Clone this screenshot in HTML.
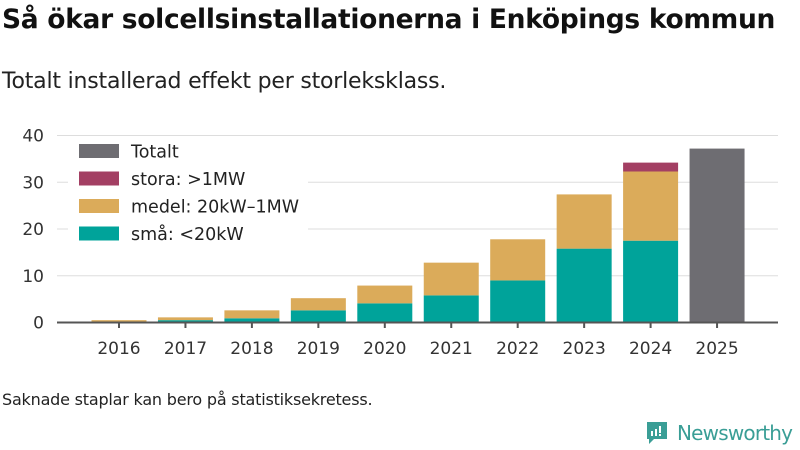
<!DOCTYPE html>
<html><head><meta charset="utf-8"><style>
body{margin:0;width:800px;height:450px;background:#fff;font-family:"Liberation Sans","DejaVu Sans",sans-serif;overflow:hidden;position:relative}
#title{position:absolute;left:2px;top:4px;font-size:26.5px;font-weight:bold;color:#111;font-family:"DejaVu Sans",sans-serif;letter-spacing:-0.3px;white-space:nowrap}
#sub{position:absolute;left:2px;top:69px;font-size:22px;color:#222;font-family:"DejaVu Sans",sans-serif;letter-spacing:-0.2px;white-space:nowrap}
#note{position:absolute;left:2px;top:390px;font-size:16px;color:#222;font-family:"DejaVu Sans",sans-serif;letter-spacing:-0.2px;white-space:nowrap}
</style></head><body>
<div id="title">Så ökar solcellsinstallationerna i Enköpings kommun</div>
<div id="sub">Totalt installerad effekt per storleksklass.</div>
<svg id="chart" width="800" height="450" style="position:absolute;left:0;top:0"></svg>
<div id="note">Saknade staplar kan bero på statistiksekretess.</div>
<div style="position:absolute;left:645px;top:420px;display:flex;align-items:center">
<svg width="24" height="26"><path d="M2 2h20v17H9l-5 5v-5H2z" fill="#3a9e96"/><rect x="6" y="11" width="2" height="5" fill="#fff"/><rect x="10" y="9" width="2" height="7" fill="#fff"/><rect x="14" y="6" width="2" height="7" fill="#fff"/><rect x="14" y="14" width="2" height="2" fill="#fff"/></svg>
<span style="color:#3a9e96;font-size:20px;margin-left:8px;font-family:'DejaVu Sans',sans-serif;letter-spacing:-0.8px;white-space:nowrap">Newsworthy</span></div>
<script>
const years=["2016","2017","2018","2019","2020","2021","2022","2023","2024","2025"];
const sma=[0.2,0.5,0.9,2.6,4.1,5.8,9.0,15.8,17.5,null];
const medel=[0.3,0.6,1.7,2.6,3.8,7.0,8.8,11.6,14.8,null];
const stora=[0,0,0,0,0,0,0,0,1.9,null];
const totalt=[null,null,null,null,null,null,null,null,null,37.2];
const yTicks=[0,10,20,30,40];
const NS="http://www.w3.org/2000/svg";
const svg=document.getElementById('chart');
const y=v=>322.5-v*4.675;
const x=i=>119+i*66.45;
const bw=55;
function el(t,a){const e=document.createElementNS(NS,t);for(const k in a)e.setAttribute(k,a[k]);svg.appendChild(e);return e;}
yTicks.forEach(t=>{
 const g=el('line',{x1:57,x2:778,y1:y(t),y2:y(t),stroke:'#ddd','stroke-width':1});
 
 
 const l=el('text',{x:44,y:y(t)+6,'text-anchor':'end','font-size':17,fill:'#333','font-family':'DejaVu Sans, sans-serif'});
 l.textContent=t;
 
 
});
function bar(i,v0,v1,c,n){
 if(v1==null||v1-v0<=0)return;
 const r=el('rect',{x:x(i)-bw/2,y:y(v1),width:bw,height:y(v0)-y(v1),fill:c});
 
 
}
years.forEach((yr,i)=>{
 if(sma[i]!=null){
  bar(i,0,sma[i],'#00a39a','bar-sma-'+yr);
  bar(i,sma[i],sma[i]+medel[i],'#dbab5a','bar-medel-'+yr);
  bar(i,sma[i]+medel[i],sma[i]+medel[i]+stora[i],'#a33f63','bar-stora-'+yr);
 }
 if(totalt[i]!=null)bar(i,0,totalt[i],'#6e6d72','bar-totalt-'+yr);
 const tk=el('line',{x1:x(i),x2:x(i),y1:322,y2:328,stroke:'#555','stroke-width':2});
 
 
 const l=el('text',{x:x(i),y:354,'text-anchor':'middle','font-size':17,fill:'#333','font-family':'DejaVu Sans, sans-serif'});
 l.textContent=yr;
 
 
});
const ax=el('line',{x1:57,x2:778,y1:322.5,y2:322.5,stroke:'#555','stroke-width':2});


const lg=el('rect',{x:68,y:136,width:240,height:112,fill:'#fff'});


const legend=[["Totalt","#6e6d72"],["stora: >1MW","#a33f63"],["medel: 20kW–1MW","#dbab5a"],["små: <20kW","#00a39a"]];
legend.forEach((d,k)=>{
 const r=el('rect',{x:79,y:144+k*27.5,width:40,height:14,fill:d[1]});
 
 
 const t=el('text',{x:131,y:157.5+k*27.5,'font-size':17.5,fill:'#222','font-family':'DejaVu Sans, sans-serif'});
 t.textContent=d[0];
 
 
});
</script>
</body></html>
